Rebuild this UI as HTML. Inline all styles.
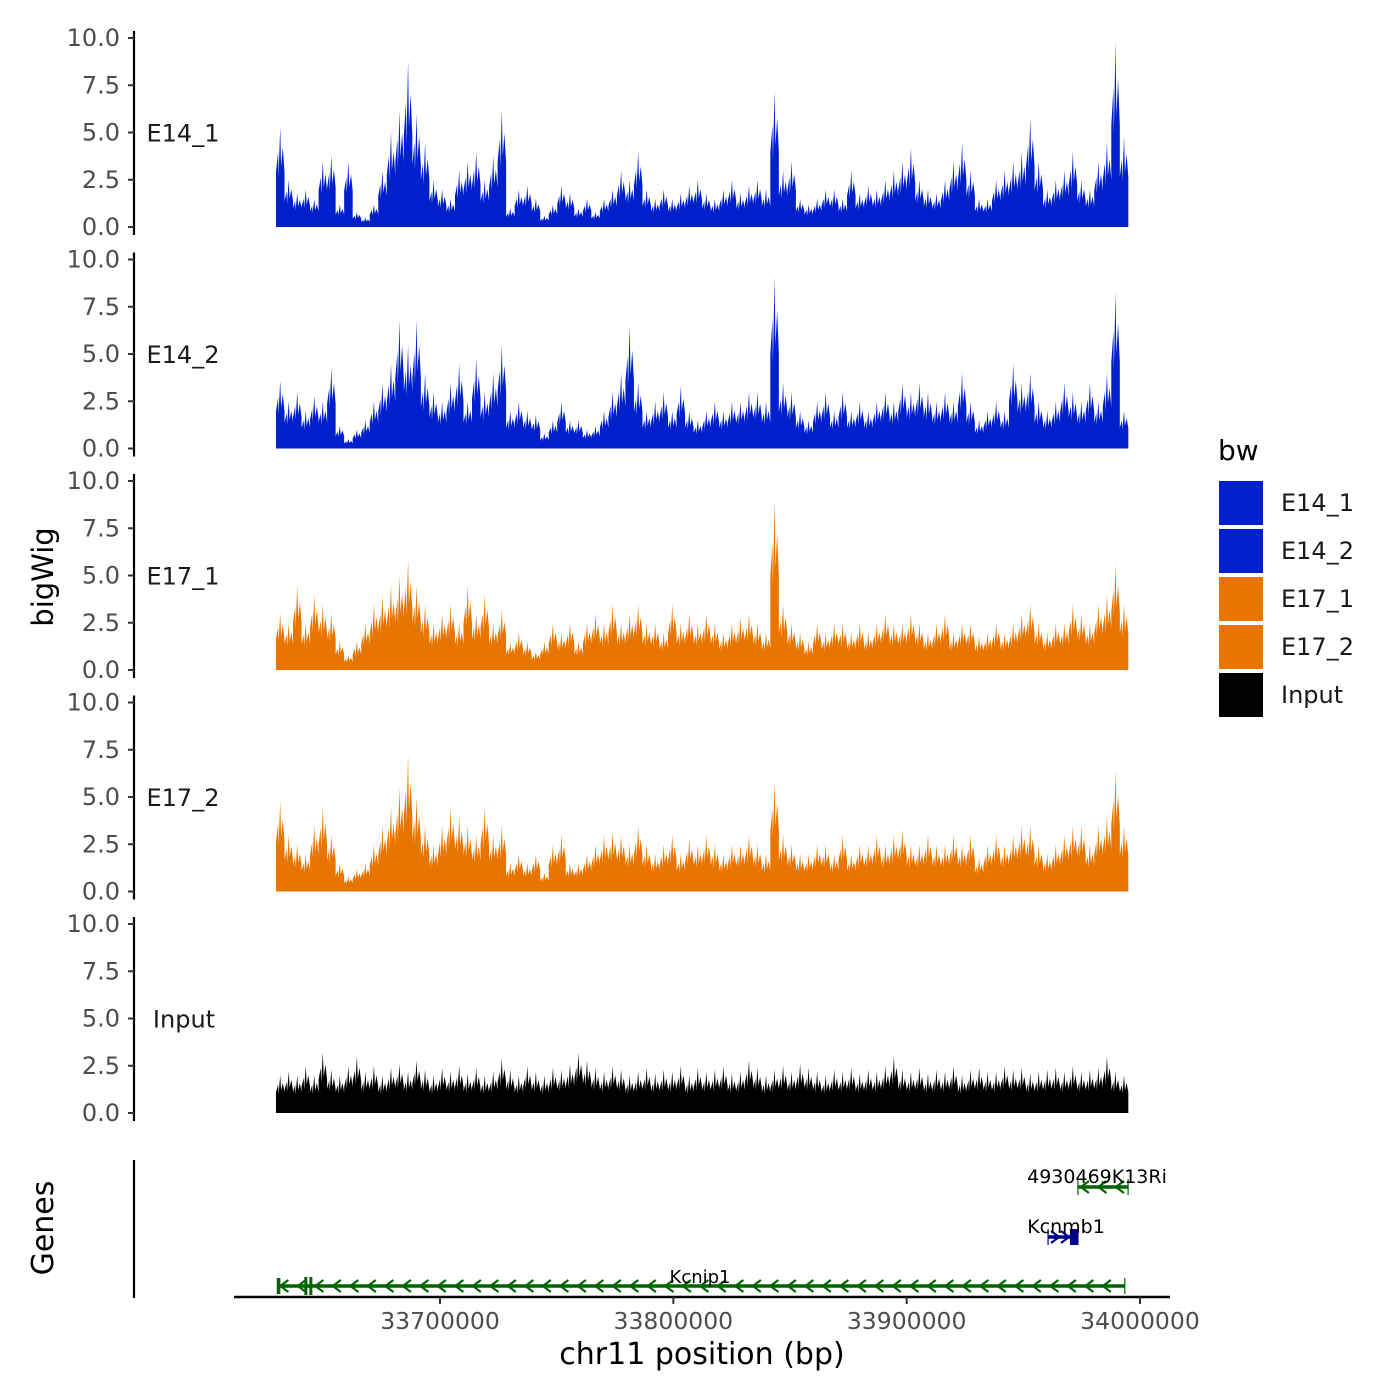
<!DOCTYPE html>
<html><head><meta charset="utf-8"><style>
html,body{margin:0;padding:0;background:#fff}
svg{display:block;font-family:"DejaVu Sans","Liberation Sans",sans-serif}
</style></head><body>
<svg id="chart" width="1400" height="1400" viewBox="0 0 1400 1400" xmlns="http://www.w3.org/2000/svg"></svg>
<script>
const trackNames = ["E14_1","E14_2","E17_1","E17_2","Input"];
const trackColors = ["#0020CC","#0020CC","#E87500","#E87500","#000000"];
const yTicks = [0,2.5,5,7.5,10];
const yTickLabels = ["0.0","2.5","5.0","7.5","10.0"];
const xTicks = [33700000,33800000,33900000,34000000];
const xTickLabels = ["33700000","33800000","33900000","34000000"];
const regionStart = 33629700, regionEnd = 33995000;
const e14_1 = [5.3,2.5,1.8,2.0,1.5,3.5,3.8,1.2,3.5,0.8, 0.5,1.2,3.0,5.0,6.2,8.8,6.0,4.5,2.5,2.0, 1.5,3.0,3.5,4.0,2.5,3.8,6.2,1.0,2.0,2.2, 1.5,0.6,1.2,2.2,1.8,1.0,1.5,0.8,1.5,2.0, 3.0,2.5,4.0,2.0,1.5,2.0,1.5,1.8,2.2,2.5, 1.8,1.5,2.0,2.5,1.8,2.2,2.5,2.0,7.2,3.0, 3.5,1.5,1.2,1.5,2.0,2.0,1.5,3.0,1.8,2.2, 2.0,2.5,3.0,3.5,4.2,2.5,2.0,1.8,2.5,3.5, 4.5,3.0,1.5,1.5,2.5,3.0,3.5,4.0,5.8,3.5, 2.0,2.5,3.0,4.0,2.5,2.0,3.5,4.5,9.8,4.8];
const e14_2 = [3.6,2.5,3.0,2.0,2.8,2.5,4.3,1.2,0.5,1.0, 1.5,2.5,3.5,4.5,6.8,5.5,6.8,4.0,3.0,2.5, 3.5,4.5,2.5,4.8,3.0,4.0,5.5,2.0,2.5,2.0, 1.8,0.8,1.5,2.5,1.5,1.5,1.0,1.2,2.0,3.0, 4.0,6.5,3.5,2.0,2.5,3.0,2.0,3.3,2.0,1.5, 2.0,2.5,2.0,2.5,2.5,3.0,3.0,2.5,9.1,3.5, 3.0,2.0,1.5,2.5,3.0,2.0,3.0,2.0,2.5,2.0, 2.5,3.0,2.5,3.5,3.0,3.5,3.0,2.5,3.0,2.5, 4.0,2.5,1.5,2.0,2.5,2.0,4.5,3.5,4.0,2.5, 2.0,2.5,3.5,3.0,2.5,3.5,2.5,4.0,8.3,2.0];
const e17_1 = [3.0,2.5,4.5,2.5,4.0,3.5,3.0,1.5,0.8,1.5, 2.5,3.5,4.0,4.5,5.0,5.8,4.5,3.5,2.5,3.0, 3.5,2.5,4.5,3.0,4.0,2.5,3.2,1.5,2.0,1.5, 1.0,1.5,2.5,2.0,2.5,1.5,2.5,3.0,2.5,3.5, 2.5,3.0,3.5,2.5,2.5,2.0,3.5,2.5,3.0,2.5, 3.0,2.5,2.0,2.5,2.8,3.0,2.5,2.0,9.0,3.5, 2.5,2.0,1.5,2.5,2.0,2.5,2.5,2.0,2.5,2.0, 2.5,3.0,2.5,2.5,3.0,2.5,2.0,2.5,3.0,2.0, 2.5,2.5,1.8,2.0,2.5,2.0,2.5,3.0,3.5,2.5, 2.0,2.5,2.5,3.5,3.0,2.5,3.5,4.0,5.6,3.5];
const e17_2 = [4.8,3.0,2.5,2.0,3.5,4.5,3.0,1.5,0.8,1.2, 1.5,2.5,3.5,4.5,5.5,7.2,5.0,3.5,2.5,3.5, 4.5,4.0,3.5,3.0,4.5,3.0,3.5,1.5,2.0,1.5, 2.0,1.0,2.5,3.0,1.5,1.5,2.0,2.5,3.0,3.2, 3.0,2.5,3.5,2.5,2.0,2.5,3.0,2.0,2.8,2.5, 3.0,2.5,2.0,2.5,2.5,3.0,2.5,2.0,5.8,3.0, 2.5,2.0,2.0,2.5,2.5,2.0,3.0,2.0,2.5,2.5, 3.0,2.5,3.0,3.3,2.5,2.5,3.0,2.5,2.5,3.0, 2.5,3.0,1.8,2.5,3.0,2.5,3.0,3.5,3.5,2.5, 2.0,2.5,3.0,3.5,3.5,2.5,3.5,4.0,6.4,3.5];
const input = [2.0,2.2,2.0,2.5,2.0,3.2,2.3,2.0,2.5,3.0, 2.2,2.5,2.0,2.4,2.6,2.2,2.8,2.3,2.0,2.4, 2.2,2.5,2.1,2.4,2.0,2.2,2.9,2.3,2.0,2.5, 2.2,2.0,2.4,2.3,2.6,3.2,2.8,2.4,2.2,2.5, 2.3,2.0,2.2,2.4,2.1,2.3,2.2,2.5,2.0,2.4, 2.2,2.3,2.5,2.1,2.2,2.8,2.4,2.0,2.3,2.5, 2.2,2.6,2.4,2.2,2.0,2.3,2.2,2.4,2.1,2.3, 2.2,2.5,3.0,2.3,2.2,2.4,2.1,2.3,2.2,2.5, 2.0,2.3,2.4,2.2,2.2,2.5,2.3,2.4,2.1,2.2, 2.3,2.4,2.2,2.5,2.2,2.3,2.4,3.0,2.2,2.0];
const trackValues = [e14_1,e14_2,e17_1,e17_2,input];
const geneNames = ["Kcnip1","Kcnmb1","4930469K13Ri"];
const geneStarts = [33630300,33960600,33973400];
const geneEnds = [33993500,33973400,33994900];
const geneStrands = [-1,1,-1];
const geneRows = [0,1,2];

const svg = document.getElementById('chart');
const NS = "http://www.w3.org/2000/svg";
function mk(tag, attrs, parent){const e=document.createElementNS(NS,tag);for(const k in attrs)e.setAttribute(k,attrs[k]);(parent||svg).appendChild(e);return e;}
const xScale = bp => 440 + (bp-33700000)*233.33/100000;
const panelTop0 = 38, panelStep = 221.5, panelH = 189;
const yScale = (p,v) => panelTop0 + p*panelStep + panelH - v/10*panelH;

for(let p=0;p<5;p++){
  const g = mk('g',{});
  
  
  const vals = trackValues[p];
  const n = vals.length;
  const x0 = xScale(regionStart), x1 = xScale(regionEnd), bw=(x1-x0)/n;
  let d = `M${x0},${yScale(p,0)}`;
  for(let i=0;i<n;i++){
    const a=x0+i*bw, b=a+bw, v=vals[i];
    d += ` L${a},${yScale(p,v*0.55)} L${a+bw*0.25},${yScale(p,v*0.75)} L${a+bw*0.3},${yScale(p,v*0.5)} L${a+bw*0.5},${yScale(p,v)} L${a+bw*0.6},${yScale(p,v*0.6)} L${a+bw*0.8},${yScale(p,v*0.8)} L${b},${yScale(p,v*0.55)}`;
  }
  d += ` L${x1},${yScale(p,0)} Z`;
  const area = mk('path',{d:d,fill:trackColors[p]},g);
  
  
  const top = yScale(p,10)-7, bot = yScale(p,0)+8;
  const ax = mk('line',{x1:134,x2:134,y1:top,y2:bot,stroke:'#000','stroke-width':2.2},g);
  
  
  yTicks.forEach((t,i)=>{
    const y=yScale(p,t);
    const tk = mk('line',{x1:128,x2:134,y1:y,y2:y,stroke:'#333','stroke-width':2},g);
    
    
    const tl = mk('text',{x:120,y:y+8,'text-anchor':'end','font-size':24,fill:'#4d4d4d'},g);
    tl.textContent = yTickLabels[i];
    
    
  });
  const lab = mk('text',{x:p===4?184:183,y:yScale(p,5)+9,'text-anchor':'middle','font-size':24,fill:'#1a1a1a'},g);
  lab.textContent = trackNames[p];
  
  
}

const yt = mk('text',{x:0,y:0,transform:'translate(53,577) rotate(-90)','text-anchor':'middle','font-size':29,fill:'#000'});
yt.textContent='bigWig';



const gg = mk('g',{});


const gax = mk('line',{x1:134,x2:134,y1:1160,y2:1298,stroke:'#000','stroke-width':2.2},gg);


const gt = mk('text',{x:0,y:0,transform:'translate(53,1228) rotate(-90)','text-anchor':'middle','font-size':30,fill:'#000'},gg);
gt.textContent='Genes';


const rowY=[1286,1237,1187];
geneNames.forEach((nm,i)=>{
  const y=rowY[geneRows[i]], a=xScale(geneStarts[i]), b=xScale(geneEnds[i]);
  const col = geneStrands[i]<0?'#006400':'#00008B';
  const g = mk('g',{},gg);
  
  
  mk('line',{x1:a,x2:b,y1:y,y2:y,stroke:col,'stroke-width':3.5},g);
  const s=geneStrands[i];
  const step = (b-a)<40?10:17.5;
  for(let x=a+7;x<b-4;x+=step){
    mk('polyline',{points:`${x-4*s},${y-6} ${x+4*s},${y} ${x-4*s},${y+6}`,fill:'none',stroke:col,'stroke-width':2.2},g);
  }
  mk('line',{x1:a,x2:a,y1:y-8,y2:y+8,stroke:col,'stroke-width':1.2},g);
  mk('line',{x1:b,x2:b,y1:y-8,y2:y+8,stroke:col,'stroke-width':1.2},g);
  if(i===0){mk('rect',{x:a,y:y-8,width:3,height:16,fill:col},g);mk('rect',{x:a+27,y:y-9,width:3,height:18,fill:col},g);mk('rect',{x:a+32,y:y-9,width:3,height:18,fill:col},g);}
  if(i===1){mk('rect',{x:b-8,y:y-8,width:8,height:16,fill:col},g);}
  const t = mk('text',{x:i===0?700:(i===1?1066:1097),y:i===0?y-3:y-4,'text-anchor':'middle','font-size':i===0?18:19,fill:'#000'},g);
  t.textContent=nm;
  
  
});

const xa = mk('line',{x1:234,x2:1170,y1:1297,y2:1297,stroke:'#000','stroke-width':2.5});


xTicks.forEach((t,i)=>{
  const x=xScale(t);
  const tk=mk('line',{x1:x,x2:x,y1:1297,y2:1304,stroke:'#333','stroke-width':2});
  
  
  const tl=mk('text',{x:x,y:1329,'text-anchor':'middle','font-size':23.5,fill:'#4d4d4d'});
  tl.textContent=xTickLabels[i];
  
  
});
const xt = mk('text',{x:702,y:1364,'text-anchor':'middle','font-size':30,fill:'#000'});
xt.textContent='chr11 position (bp)';



const lg = mk('g',{});


const lt = mk('text',{x:1218,y:460,'font-size':28,fill:'#000'},lg);
lt.textContent='bw';


trackNames.forEach((nm,i)=>{
  const y=481+i*48;
  const e = mk('g',{},lg);
  
  
  mk('rect',{x:1219,y:y,width:44,height:44,fill:trackColors[i]},e);
  const t=mk('text',{x:1281,y:y+30,'font-size':24,fill:'#1a1a1a'},e);
  t.textContent=nm;
});
</script>
</body></html>
